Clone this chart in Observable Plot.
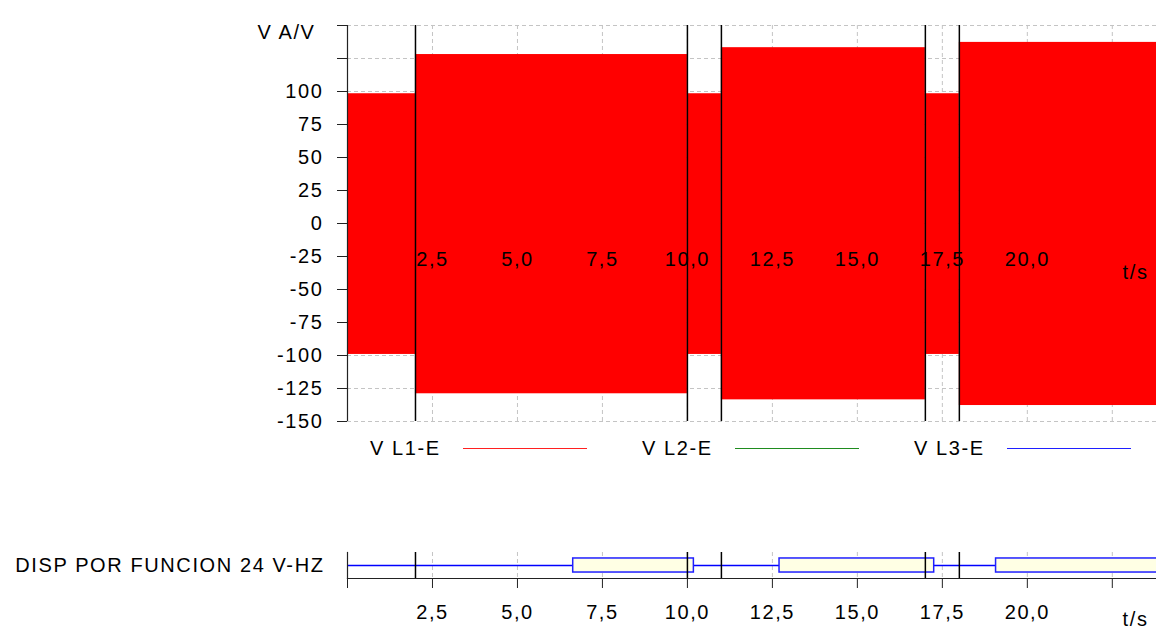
<!DOCTYPE html>
<html><head><meta charset="utf-8">
<script src="https://cdn.jsdelivr.net/npm/d3@7"></script>
<script src="https://cdn.jsdelivr.net/npm/@observablehq/plot@0.6"></script>
<style>
body{margin:0;background:#fff;}
#wrap{position:relative;width:1156px;height:633px;overflow:hidden;font-family:"Liberation Sans",Arial,sans-serif;}
#top{position:absolute;left:0;top:0;}
#legend{position:absolute;left:370px;top:436px;display:flex;}
.item{width:272px;display:flex;align-items:center;height:24px;font-size:20px;letter-spacing:1.6px;color:#000;}
.lab{display:inline-block;width:93px;white-space:nowrap;}
.sw{display:inline-block;width:124px;height:0;border-top:1.5px solid;}
#bottom{position:absolute;left:0;top:530px;}
</style></head>
<body>
<div id="wrap"><div id="top"></div><div id="legend"></div><div id="bottom"></div></div>
<script>
// ---- data ----
const segStart = [0, 2, 10, 11, 17, 18];
const segEnd   = [2, 10, 11, 17, 18, 23.8];
const segHigh  = [98.3, 128, 98.3, 133.2, 98.3, 137.2];
const segLow   = [-99.2, -129, -99.2, -133.6, -99.2, -137.9];
const eventTimes = [2, 10, 11, 17, 18];
const yTicks = [-150, -125, -100, -75, -50, -25, 0, 25, 50, 75, 100, 125, 150];
const yTickLabels = ["-150","-125","-100","-75","-50","-25","0","25","50","75","100","",""];
const xTicks = [2.5, 5, 7.5, 10, 12.5, 15, 17.5, 20, 22.5];
const xTickLabels = ["2,5","5,0","7,5","10,0","12,5","15,0","17,5","20,0",""];
const seriesNames = ["V L1-E", "V L2-E", "V L3-E"];
const seriesColors = ["#ff2020", "#1f8c1f", "#1f1fff"];
const dispStart = [0, 6.64, 10.19, 12.71, 17.26, 19.08];
const dispEnd   = [6.64, 10.19, 12.71, 17.26, 19.08, 24.5];
const dispState = [0, 1, 0, 1, 0, 1];
const topYLabel = "V A/V";
const xLabel = "t/s";
const dispLabel = "DISP POR FUNCION 24 V-HZ";

const xDomain = [0, 23.8];
const font = {fontFamily: "Liberation Sans, Arial, sans-serif", fontSize: "20px", letterSpacing: "1.6px", color: "#000", background: "transparent", overflow: "visible"};
const fmtX = d => { const i = xTicks.indexOf(d); return i < 0 ? "" : xTickLabels[i]; };
const fmtY = d => { const i = yTicks.indexOf(d); return i < 0 ? "" : yTickLabels[i]; };
const gridStyle = {stroke: "#c4c4c4", strokeOpacity: 1, strokeDasharray: "4,3"};

const segIdx = segStart.map((_, i) => i);
const topPlot = Plot.plot({
  width: 1156, height: 430, marginLeft: 347, marginRight: 0, marginTop: 25, marginBottom: 9,
  x: {domain: xDomain}, y: {domain: [-150, 150]},
  style: font,
  marks: [
    Plot.gridY({ticks: yTicks, ...gridStyle}),
    Plot.gridX({ticks: xTicks, ...gridStyle}),
    Plot.rect(segIdx, {x1: i => segStart[i], x2: i => segEnd[i], y1: i => segLow[i], y2: i => segHigh[i], fill: "#ff0000"}),
    Plot.ruleX(eventTimes, {stroke: "#000", strokeWidth: 1.5}),
    Plot.ruleX([0], {stroke: "#222", strokeWidth: 1.2}),
    Plot.axisY({ticks: yTicks, tickSize: 10, tickPadding: 14, tickFormat: fmtY, stroke: "#222"}),
    Plot.axisX({ticks: xTicks, anchor: "bottom", tickSize: 0, tickPadding: 0, dy: -170, tickFormat: fmtX, fill: "#000"}),
    Plot.text([xLabel], {frameAnchor: "right", textAnchor: "end", dx: -8, dy: 49, text: d => d, fill: "#000"}),
    Plot.text([topYLabel], {frameAnchor: "top-left", textAnchor: "end", dx: -32, dy: -1, text: d => d, fill: "#000"})
  ]
});
document.getElementById("top").appendChild(topPlot);

const legend = document.getElementById("legend");
seriesNames.forEach((n, i) => {
  const it = document.createElement("div"); it.className = "item";
  const l = document.createElement("span"); l.className = "lab"; l.textContent = n;
  const s = document.createElement("span"); s.className = "sw"; s.style.borderTopColor = seriesColors[i];
  it.appendChild(l); it.appendChild(s); legend.appendChild(it);
});

const onIdx = dispStart.map((_, i) => i).filter(i => dispState[i] === 1);
const bottomPlot = Plot.plot({
  width: 1156, height: 103, marginLeft: 347, marginRight: 0, marginTop: 22, marginBottom: 55,
  x: {domain: xDomain}, y: {domain: [-1, 1], axis: null},
  style: font,
  marks: [
    Plot.gridX({ticks: xTicks, ...gridStyle}),
    Plot.ruleY([0], {stroke: "#0000ff", strokeWidth: 1.5}),
    Plot.rect(onIdx, {x1: i => dispStart[i], x2: i => dispEnd[i], y1: i => -0.54 * dispState[i], y2: i => 0.54 * dispState[i], fill: "#ffffe4", stroke: "#2020ff", strokeWidth: 1.5, clip: true}),
    Plot.ruleX(eventTimes, {stroke: "#000", strokeWidth: 1.5}),
    Plot.frame({anchor: "bottom", stroke: "#222", strokeWidth: 1.2}),
    Plot.frame({anchor: "left", stroke: "#222", strokeWidth: 1.2}),
    Plot.axisX({ticks: [0, ...xTicks], tickSize: 10, tickPadding: 16, tickFormat: fmtX, stroke: "#222", fill: "#000"}),
    Plot.text([xLabel], {frameAnchor: "bottom-right", textAnchor: "end", dx: -8, dy: 47, text: d => d, fill: "#000"}),
    Plot.text([dispLabel], {frameAnchor: "left", textAnchor: "end", dx: -23, text: d => d, fill: "#000"})
  ]
});
document.getElementById("bottom").appendChild(bottomPlot);
</script>
</body></html>
